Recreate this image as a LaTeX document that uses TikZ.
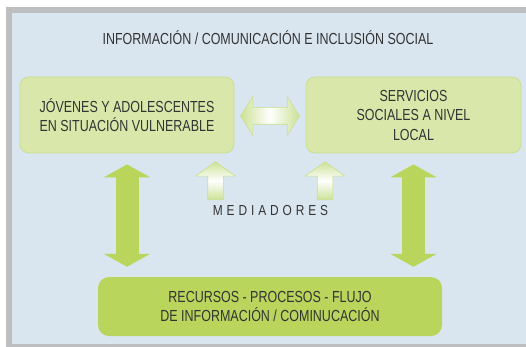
\documentclass[tikz,border=0pt]{standalone}
\usepackage{fontspec}
\setmainfont[FakeStretch=0.78]{Liberation Sans}
\newfontfamily\medfont[FakeStretch=0.82,LetterSpace=27]{Liberation Sans}
\usetikzlibrary{arrows.meta,shapes.arrows,calc}

\definecolor{fondo}{HTML}{DAE6EF}
\definecolor{marco}{HTML}{BDBEC0}
\definecolor{verdeclaro}{HTML}{D9E8AA}
\definecolor{bordeclaro}{HTML}{C9DF90}
\definecolor{verde}{HTML}{B9D55B}
\definecolor{flecha}{HTML}{CCE295}
\definecolor{texto}{HTML}{333333}

\tikzset{
	caja/.style={rounded corners=9pt, fill=verdeclaro, draw=bordeclaro, line width=0.8pt,
		align=center, text=texto, font=\fontsize{16}{19.5}\selectfont},
	recurso/.style={rounded corners=11pt, fill=verde, align=center, text=texto,
		font=\fontsize{16}{19}\selectfont},
	grande/.style={verde, line width=23pt, {Triangle[width=46pt,length=13pt]}-{Triangle[width=46pt,length=13pt]}},
	enlace/.style={double arrow, draw=bordeclaro, line width=0.6pt, inner sep=8pt,
		minimum height=59pt, minimum width=38pt, double arrow head extend=11pt,
		double arrow tip angle=115, left color=flecha, right color=flecha, middle color=white},
	subida/.style={single arrow, draw=bordeclaro, line width=0.6pt, inner sep=7.5pt,
		minimum height=38pt, minimum width=39pt, single arrow head extend=12pt,
		single arrow tip angle=108, rotate=90, anchor=tail,
		top color=flecha, bottom color=flecha, middle color=white}
}

\begin{document}
\begin{tikzpicture}[x=1pt,y=-1pt]
	\useasboundingbox (0,0) rectangle (526,347);
	\fill[marco] (6,7) rectangle (526,347);
	\fill[fondo] (12,13) rectangle (526,344);

	\node[text=texto, font=\fontsize{16}{19}\selectfont] (titulo) at (268,38) {INFORMACIÓN / COMUNICACIÓN E INCLUSIÓN SOCIAL};

	\node[caja, minimum width=214pt, minimum height=76pt] (jovenes) at (127,115) {JÓVENES Y ADOLESCENTES\\EN SITUACIÓN VULNERABLE};
	\node[caja, minimum width=215pt, minimum height=76pt] (servicios) at (413.5,115) {SERVICIOS\\SOCIALES A NIVEL\\LOCAL};
	\node[recurso, minimum width=344pt, minimum height=59pt] (recursos) at (270,306.5) {RECURSOS - PROCESOS - FLUJO\\DE INFORMACIÓN / COMINUCACIÓN};

	\node[text=texto, font=\medfont\fontsize{14.5}{16}\selectfont] (mediadores) at (270.5,211) {MEDIADORES};

	% flechas
	\node[enlace] (vinculo) at ($(jovenes.east)!0.5!(servicios.west)+(0,1)$) {};
	\node[subida] (medizq) at (215.5,200) {};
	\node[subida] (medder) at (325,200) {};

	\draw[grande, shorten <=11pt, shorten >=10pt] (jovenes.south) -- (jovenes.south |- recursos.north);
	\draw[grande, shorten <=11pt, shorten >=10pt] (servicios.south) -- (servicios.south |- recursos.north);
\end{tikzpicture}
\end{document}
